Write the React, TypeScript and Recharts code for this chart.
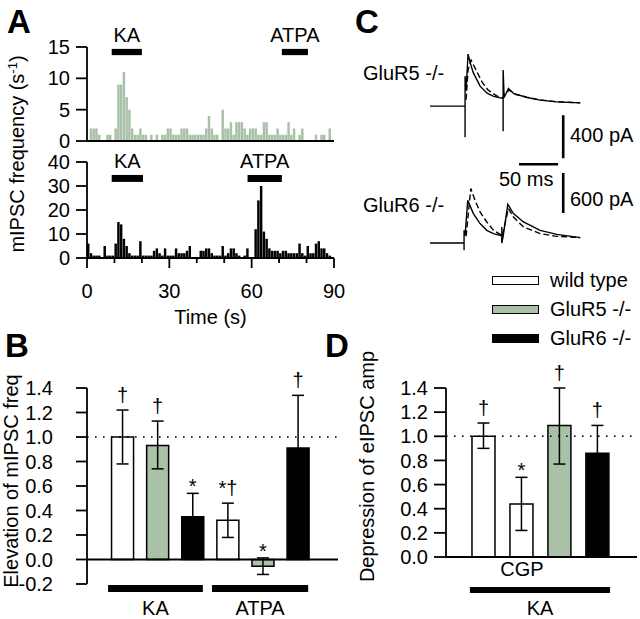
import React from 'react';
import {
  BarChart,
  ComposedChart,
  LineChart,
  Bar,
  Line,
  XAxis,
  YAxis,
  ReferenceArea,
  ReferenceLine,
  ErrorBar,
  Cell,
  Legend,
  LabelList,
} from 'recharts';

const FONT = '"Liberation Sans", Arial, Helvetica, sans-serif';
const INK = '#000000';
const GREEN = '#a9c1a7';
const FS = 20;

// A: mIPSC counts in 1 s bins, 0-90 s
const binsGluR5 = [
  0, 2, 2, 2, 1, 0, 0, 1, 1, 0,
  2, 9, 9, 11, 7, 5, 2, 1, 1, 2,
  1, 1, 0, 1, 0, 1, 0, 1, 1, 2,
  2, 1, 1, 1, 2, 2, 2, 1, 1, 1,
  1, 1, 1, 2, 4, 2, 1, 1, 0, 5,
  2, 2, 3, 1, 3, 3, 3, 2, 1, 2,
  2, 2, 1, 1, 3, 3, 1, 1, 1, 2,
  1, 1, 1, 3, 1, 2, 0, 1, 2, 0,
  0, 0, 0, 1, 0, 1, 1, 0, 2, 0,
];
const binsGluR6 = [
  6, 2, 1, 1, 1, 0, 5, 1, 1, 1,
  6, 15, 14, 8, 5, 2, 1, 1, 1, 7,
  1, 1, 1, 1, 3, 4, 2, 1, 4, 1,
  1, 1, 4, 2, 2, 2, 3, 5, 0, 0,
  0, 3, 3, 4, 4, 2, 1, 1, 1, 5,
  1, 2, 4, 4, 2, 1, 0, 1, 4, 0,
  0, 12, 24, 30, 11, 8, 4, 3, 3, 3,
  2, 3, 3, 2, 2, 2, 2, 6, 2, 1,
  5, 2, 2, 6, 7, 4, 4, 2, 1, 0,
];
const histTicks = [0, 10, 20, 30, 40, 50, 60, 70, 80, 90];
const histMajor = [0, 30, 60, 90];
const topTicks = [0, 5, 10, 15];
const bottomTicks = [0, 10, 20, 30, 40];
const appsGluR5 = [
  { name: 'KA', from: 9, to: 20 },
  { name: 'ATPA', from: 71, to: 80.5 },
];
const appsGluR6 = [
  { name: 'KA', from: 9, to: 20.4 },
  { name: 'ATPA', from: 58.5, to: 71 },
];

// B: elevation of mIPSC frequency
const bPos = [1, 2, 3, 4, 5, 6];
const bGroup = ['wt', 'r5', 'r6', 'wt', 'r5', 'r6'];
const bMean = [1.0, 0.93, 0.35, 0.32, -0.055, 0.91];
const bErrLo = [0.22, 0.19, 0.19, 0.14, 0.067, 0.43];
const bErrHi = [0.22, 0.2, 0.19, 0.14, 0.068, 0.43];
const bMarks = ['†', '†', '*', '*†', '*', '†'];
const bTicks = [-0.2, 0, 0.2, 0.4, 0.6, 0.8, 1.0, 1.2, 1.4];
const bApps = [
  { name: 'KA', from: 0.6, to: 3.3 },
  { name: 'ATPA', from: 3.56, to: 6.3 },
];

// D: depression of eIPSC amplitude
const dPos = [1, 2, 3, 4];
const dGroup = ['wt', 'wt', 'r5', 'r6'];
const dMean = [1.0, 0.44, 1.09, 0.86];
const dErrLo = [0.1, 0.22, 0.32, 0.23];
const dErrHi = [0.11, 0.22, 0.31, 0.23];
const dMarks = ['†', '*', '†', '†'];
const dCatLabels = ['', 'CGP', '', ''];
const dTicks = [0, 0.2, 0.4, 0.6, 0.8, 1.0, 1.2, 1.4];
const dApps = [{ name: 'KA', from: 0.63, to: 4.32 }];

const legendItems = [
  { name: 'wild type', grp: 'wt' },
  { name: 'GluR5 -/-', grp: 'r5' },
  { name: 'GluR6 -/-', grp: 'r6' },
];
const groupFill: Record<string, string> = { wt: '#ffffff', r5: GREEN, r6: INK };

// C: eIPSC traces, [ms, pA]
const r5Solid = [
  [0, 0], [43.6, 0], [44.9, 0], [44.9, -288], [44.9, 279], [46.2, 149], [48.7, 484],
  [51.3, 409], [55.1, 316], [64.1, 186], [73.1, 121], [80.8, 93], [89.7, 77], [93.6, 74],
  [93.6, -233], [93.6, 335], [94.9, 80], [100.4, 165], [107.1, 118], [124, 81],
  [141, 56], [162.4, 40], [192.3, 31],
];
const r5Dash = [
  [46.2, 60], [48.7, 335], [52.6, 428], [60.3, 316], [66.7, 223], [74.4, 149], [85.9, 93],
  [93.6, 78], [97.4, 120], [101.3, 150], [109, 110], [124, 84], [141, 58], [162.4, 41], [192.3, 31],
];
const r6Solid = [
  [0, 0], [42.9, 0], [43.6, 0], [43.6, -109], [43.6, 190], [44.9, 115], [48.3, 640],
  [55.5, 441], [64.1, 291], [72.7, 190], [81.2, 141], [89.7, 115], [91.9, 108],
  [91.9, 240], [91.9, 0], [93.6, 100], [99.6, 580], [106.8, 441], [119.6, 315],
  [141, 190], [162.4, 130], [192.3, 81],
];
const r6Dash = [
  [46.2, 100], [52.2, 816], [57.7, 640], [64.1, 465], [72.7, 315], [81.2, 190], [89.7, 130],
  [92.3, 100], [100.4, 516], [106.8, 390], [119.6, 240], [141, 141], [162.4, 100], [192.3, 81],
];
const scaleBarX = 170.5;

const axisStyle = { stroke: INK, strokeWidth: 1.8 };
const tickText = { fontSize: FS, fill: INK };
const fmt1 = (v: number) => v.toFixed(1);
const toRows = (pts: number[][]) => pts.map(([t, v]) => ({ t, v }));
const toBins = (bins: number[]) => bins.map((v, i) => ({ t: i + 0.5, v }));

const Abs = ({ left, top, children }: any) => (
  <div style={{ position: 'absolute', left, top }}>{children}</div>
);

const HistTick = (props: any) => {
  const { x, y, payload } = props;
  const major = histMajor.includes(payload.value);
  return (
    <g>
      <line x1={x} x2={x} y1={y} y2={y + (major ? 10 : 5)} stroke={INK} strokeWidth={1.8} />
      {major && (
        <text x={x} y={y + 40} textAnchor="middle" fontSize={FS} fill={INK}>
          {payload.value}
        </text>
      )}
    </g>
  );
};

// rotated axis title; capX = centre of the capitals from the axis box's left edge
const VLabel = (props: any) => {
  const { viewBox, text, capX, shiftUp } = props;
  if (!viewBox) return null;
  const x = viewBox.x + capX + 0.355 * FS;
  const y = viewBox.y + viewBox.height / 2 - shiftUp;
  return (
    <text transform={`translate(${x},${y}) rotate(-90)`} textAnchor="middle" fontSize={FS} fill={INK}>
      {text}
    </text>
  );
};

// significance symbols sit just above the upper error cap (top of the invisible bar)
const SigLabel = (props: any) => {
  const vb = props.viewBox || props;
  const m: string = props.value || '';
  const x = vb.x + vb.width / 2;
  const y = vb.y - (m.includes('†') ? 8 : 0);
  return (
    <text x={x} y={y} textAnchor="middle" fontSize={FS} fill={INK}>
      {m}
    </text>
  );
};

const LegendBox = () => (
  <div style={{ fontFamily: FONT, color: INK }}>
    {legendItems.map((it) => (
      <div key={it.name} style={{ display: 'flex', alignItems: 'center', height: 29 }}>
        <span
          style={{
            display: 'inline-block',
            width: 45,
            height: 7,
            background: groupFill[it.grp],
            border: '1.5px solid #000',
            marginRight: 11,
          }}
        />
        <span style={{ fontSize: FS, lineHeight: '29px', whiteSpace: 'nowrap' }}>{it.name}</span>
      </div>
    ))}
  </div>
);

function HistTop() {
  return (
    <BarChart width={345} height={158} data={toBins(binsGluR5)} margin={{ top: 47, right: 11, bottom: 16, left: 0 }}>
      <XAxis type="number" dataKey="t" domain={[0, 90]} tick={false} tickLine={false} height={1} axisLine={axisStyle} />
      <YAxis domain={[0, 15]} ticks={topTicks} interval={0} width={87} tickSize={11} tickMargin={6} tick={tickText} axisLine={axisStyle} tickLine={axisStyle} />
      {appsGluR5.map((a) => (
        <ReferenceArea key={a.name} x1={a.from} x2={a.to} y1={13.7} y2={14.7} ifOverflow="visible" fill={INK} fillOpacity={1} stroke="none"
          label={{ value: a.name, position: 'top', offset: 7, fill: INK, fontSize: FS }} />
      ))}
      <Bar dataKey="v" fill={GREEN} barSize={2.9} isAnimationActive={false} />
    </BarChart>
  );
}

function HistBottom() {
  return (
    <BarChart width={345} height={185} data={toBins(binsGluR6)} margin={{ top: 12, right: 11, bottom: 7, left: 0 }}>
      <XAxis type="number" dataKey="t" domain={[0, 90]} ticks={histTicks} interval={0} tickSize={0} tickMargin={0} tickLine={false}
        tick={<HistTick />} height={70} axisLine={axisStyle}
        label={{ value: 'Time (s)', position: 'insideBottom', offset: 4, fill: INK, fontSize: FS }} />
      <YAxis domain={[0, 40]} ticks={bottomTicks} interval={0} width={87} tickSize={11} tickMargin={6} tick={tickText} axisLine={axisStyle} tickLine={axisStyle} />
      {appsGluR6.map((a) => (
        <ReferenceArea key={a.name} x1={a.from} x2={a.to} y1={31.7} y2={34.6} ifOverflow="visible" fill={INK} fillOpacity={1} stroke="none"
          label={{ value: a.name, position: 'top', offset: 7, fill: INK, fontSize: FS }} />
      ))}
      <Bar dataKey="v" fill={INK} barSize={2.9} isAnimationActive={false} />
    </BarChart>
  );
}

function Traces() {
  const solid = { stroke: INK, strokeWidth: 1.4, dot: false, type: 'linear' as const, isAnimationActive: false };
  const dashed = { ...solid, strokeDasharray: '6 3' };
  const bar = { stroke: INK, strokeWidth: 2.6, ifOverflow: 'visible' as const };
  return (
    <LineChart width={300} height={220} margin={{ top: 0, right: 10, bottom: 0, left: 90 }}>
      <XAxis type="number" dataKey="t" domain={[0, 256]} hide allowDataOverflow />
      <YAxis yAxisId="r5" type="number" domain={[-1430, 615]} hide allowDataOverflow />
      <YAxis yAxisId="r6" type="number" domain={[-255, 3045]} hide allowDataOverflow />
      <Line yAxisId="r5" data={toRows(r5Dash)} dataKey="v" {...dashed} />
      <Line yAxisId="r5" data={toRows(r5Solid)} dataKey="v" {...solid} />
      <Line yAxisId="r6" data={toRows(r6Dash)} dataKey="v" {...dashed} />
      <Line yAxisId="r6" data={toRows(r6Solid)} dataKey="v" {...solid} />
      <ReferenceLine yAxisId="r5" segment={[{ x: scaleBarX, y: -84 }, { x: scaleBarX, y: -484 }]} {...bar} />
      <ReferenceLine yAxisId="r5" segment={[{ x: 114, y: -540 }, { x: 164, y: -540 }]} {...bar} />
      <ReferenceLine yAxisId="r6" segment={[{ x: scaleBarX, y: 450 }, { x: scaleBarX, y: 1050 }]} {...bar} />
    </LineChart>
  );
}

function PanelB() {
  const rows = bPos.map((x, i) => ({
    x, v: bMean[i], err: [bErrLo[i], bErrHi[i]], grp: bGroup[i], top: bMean[i] + bErrHi[i], mark: bMarks[i],
  }));
  return (
    <ComposedChart width={345} height={249} data={rows} margin={{ top: 18, right: 7, bottom: 35, left: 0 }}>
      <XAxis type="number" dataKey="x" domain={[0, 7.15]} hide />
      <XAxis xAxisId="marks" type="number" dataKey="x" domain={[0, 7.15]} hide />
      <YAxis domain={[-0.2, 1.4]} ticks={bTicks} interval={0} width={87} tickSize={11} tickMargin={23} tickFormatter={fmt1}
        tick={tickText} axisLine={axisStyle} tickLine={axisStyle}
        label={<VLabel text="Elevation of mIPSC freq" capX={11} shiftUp={5} />} />
      <ReferenceLine y={1} stroke={INK} strokeWidth={1.6} strokeDasharray="1.6 6.4" />
      {bApps.map((a) => (
        <ReferenceArea key={a.name} x1={a.from} x2={a.to} y1={-0.209} y2={-0.266} ifOverflow="visible" fill={INK} fillOpacity={1} stroke="none"
          label={{ value: a.name, position: 'bottom', offset: 9, fill: INK, fontSize: FS }} />
      ))}
      <Bar dataKey="v" barSize={22} isAnimationActive={false}>
        {rows.map((r, i) => (
          <Cell key={i} fill={groupFill[r.grp]} stroke={INK} strokeWidth={1.5} />
        ))}
        <ErrorBar dataKey="err" width={6} stroke={INK} strokeWidth={1.5} />
      </Bar>
      <Bar xAxisId="marks" dataKey="top" barSize={22} fill="none" stroke="none" isAnimationActive={false}>
        <LabelList dataKey="mark" content={<SigLabel />} />
      </Bar>
      <ReferenceLine y={0} stroke={INK} strokeWidth={1.8} />
    </ComposedChart>
  );
}

function PanelD() {
  const rows = dPos.map((x, i) => ({
    x, v: dMean[i], err: [dErrLo[i], dErrHi[i]], grp: dGroup[i], top: dMean[i] + dErrHi[i], mark: dMarks[i],
  }));
  return (
    <ComposedChart width={300} height={359} data={rows} margin={{ top: 128, right: 3, bottom: 32, left: 0 }}>
      <XAxis type="number" dataKey="x" domain={[0, 5.03]} ticks={dPos} interval={0} tickLine={false} tickSize={0} tickMargin={5}
        tickFormatter={(v: number) => dCatLabels[dPos.indexOf(v)] || ''} tick={tickText} axisLine={axisStyle} height={30} />
      <XAxis xAxisId="marks" type="number" dataKey="x" domain={[0, 5.03]} hide />
      <YAxis domain={[0, 1.4]} ticks={dTicks} interval={0} width={106} tickSize={12} tickMargin={6} tickFormatter={fmt1}
        tick={tickText} axisLine={axisStyle} tickLine={axisStyle}
        label={<VLabel text="Depression of eIPSC amp" capX={27} shiftUp={6} />} />
      <ReferenceLine y={1} stroke={INK} strokeWidth={1.6} strokeDasharray="1.6 6.4" />
      {dApps.map((a) => (
        <ReferenceArea key={a.name} x1={a.from} x2={a.to} y1={-0.249} y2={-0.298} ifOverflow="visible" fill={INK} fillOpacity={1} stroke="none"
          label={{ value: a.name, position: 'bottom', offset: 8, fill: INK, fontSize: FS }} />
      ))}
      <Bar dataKey="v" barSize={23} isAnimationActive={false}>
        {rows.map((r, i) => (
          <Cell key={i} fill={groupFill[r.grp]} stroke={INK} strokeWidth={1.5} />
        ))}
        <ErrorBar dataKey="err" width={6} stroke={INK} strokeWidth={1.5} />
      </Bar>
      <Bar xAxisId="marks" dataKey="top" barSize={23} fill="none" stroke="none" isAnimationActive={false}>
        <LabelList dataKey="mark" content={<SigLabel />} />
      </Bar>
      <Legend content={() => <LegendBox />} layout="vertical" align="center" verticalAlign="middle"
        wrapperStyle={{ left: 152, top: 5.5, width: 150, height: 87 }} />
    </ComposedChart>
  );
}

function Overlay() {
  const letters = [
    { t: 'A', x: 7, y: 33 },
    { t: 'B', x: 5, y: 357 },
    { t: 'C', x: 355, y: 33 },
    { t: 'D', x: 325, y: 357 },
  ];
  return (
    <svg width={640} height={619} style={{ position: 'absolute', left: 0, top: 0, pointerEvents: 'none' }} fontFamily={FONT} fill={INK}>
      {letters.map((l) => (
        <text key={l.t} x={l.x} y={l.y} fontSize={33} fontWeight="bold">{l.t}</text>
      ))}
      <text transform="translate(24,154) rotate(-90)" textAnchor="middle" fontSize={FS}>
        mIPSC frequency (s<tspan dy={-7} fontSize={13}>-1</tspan><tspan dy={7}>)</tspan>
      </text>
      <text x={363} y={79.5} fontSize={FS}>GluR5 -/-</text>
      <text x={363} y={212} fontSize={FS}>GluR6 -/-</text>
      <text x={570} y={142} fontSize={FS}>400 pA</text>
      <text x={499} y={186} fontSize={FS}>50 ms</text>
      <text x={570} y={206} fontSize={FS}>600 pA</text>
    </svg>
  );
}

export default function App() {
  return (
    <div style={{ position: 'absolute', left: 0, top: 0, width: 640, height: 619, background: '#fff', fontFamily: FONT, color: INK, overflow: 'hidden' }}>
      <Abs left={0} top={0}><HistTop /></Abs>
      <Abs left={0} top={150}><HistBottom /></Abs>
      <Abs left={340} top={40}><Traces /></Abs>
      <Abs left={0} top={370}><PanelB /></Abs>
      <Abs left={340} top={260}><PanelD /></Abs>
      <Overlay />
    </div>
  );
}
